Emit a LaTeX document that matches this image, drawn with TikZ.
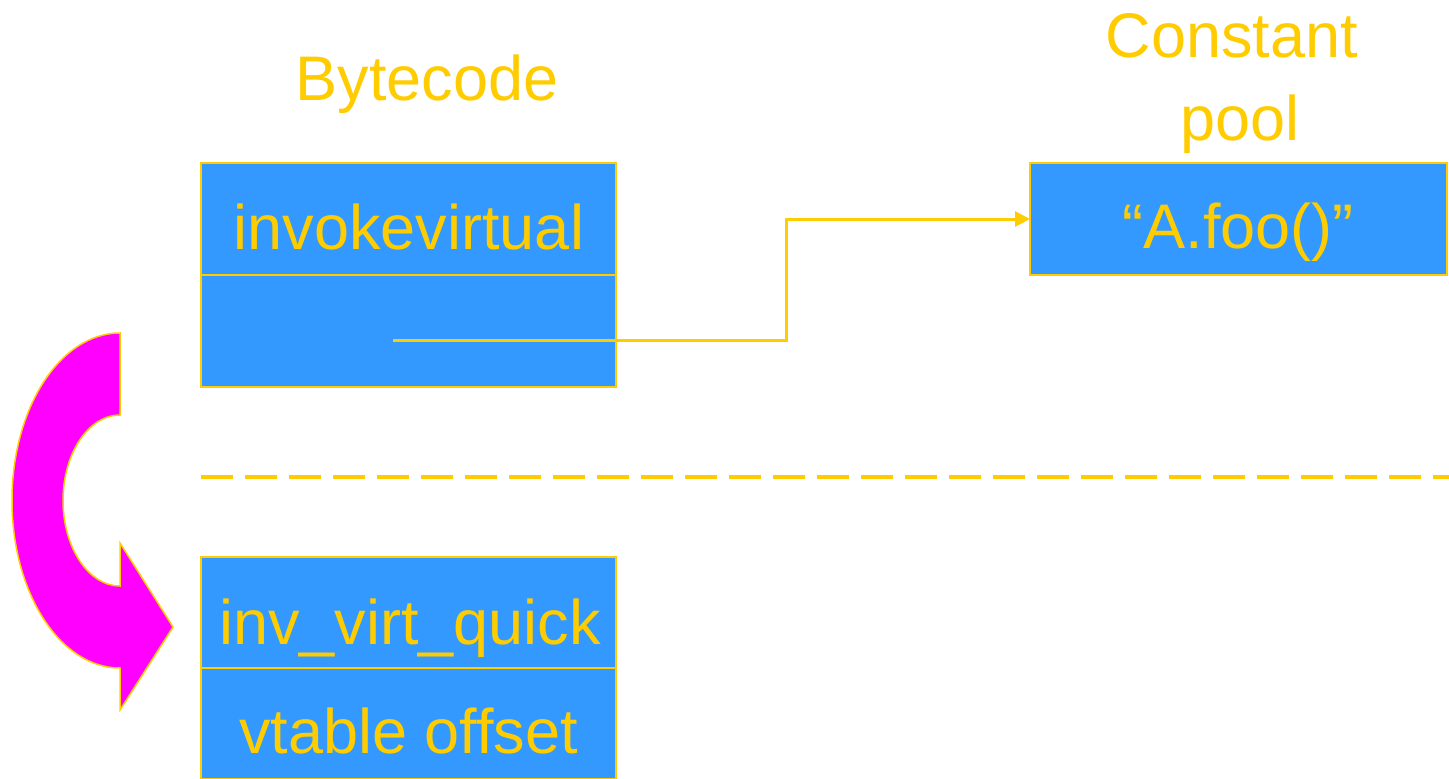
\documentclass[tikz,border=0pt]{standalone}
\usepackage{fontspec}
\setmainfont{Liberation Sans}
\usetikzlibrary{arrows.meta}
\definecolor{ylw}{HTML}{FFCC00}
\definecolor{blu}{HTML}{3399FF}
\definecolor{mag}{HTML}{FF00FF}
\begin{document}
\begin{tikzpicture}[x=1pt,y=-1pt,
  cell/.style={draw=ylw, fill=blu, line width=1.5pt, minimum width=415pt, minimum height=112pt, inner sep=0pt, outer sep=0pt},
  txt/.style={text=ylw, font=\fontsize{63}{75}\selectfont, anchor=base, inner sep=0pt},
  conn/.style={draw=ylw, line width=3pt, -{Triangle[length=15pt,width=15pt]}},
  sep/.style={draw=ylw, line width=4pt, dash pattern=on 32pt off 12pt}
]
\useasboundingbox (0,0) rectangle (1449,779);
% boxes
\node[cell] (bc1) at (408.5,219) {};
\node[cell] (bc2) at (408.5,331) {};
\node[cell, minimum width=417pt] (cp) at (1238.5,219) {};
\node[cell, minimum height=111pt] (q1) at (408.5,612.5) {};
\node[cell, minimum height=111pt] (q2) at (408.5,723.5) {};
% texts
\node[txt] (tbc) at (427,100) {Bytecode};
\node[txt] (tcp1) at (1232,57) {Constant};
\node[txt] (tcp2) at (1240,140) {pool};
\node[txt] (tinv) at (409,249) {invokevirtual};
\node[txt] (tfoo) at (1238,248) {“A.foo()”};
\node[txt] (tq1) at (410,644) {inv\_virt\_quick};
\node[txt] (tq2) at (408.5,753) {vtable offset};
% connector
\coordinate (src) at (393,340);
\draw[conn] (src) -- (786,340) |- (cp.west);
% dashed separator
\coordinate (d1) at (201,477);
\coordinate (d2) at (1449,477);
\draw[sep] (d1) -- (d2);
% curved arrow
\path[fill=mag, draw=ylw, line width=1.5pt, line join=miter]
  (120,333) arc[start angle=270, end angle=90, x radius=108, y radius=167.5]
  -- (120,710) -- (173,627) -- (120,543) -- (120,586)
  arc[start angle=90, end angle=270, x radius=57, y radius=85.5] -- cycle;
\end{tikzpicture}
\end{document}
